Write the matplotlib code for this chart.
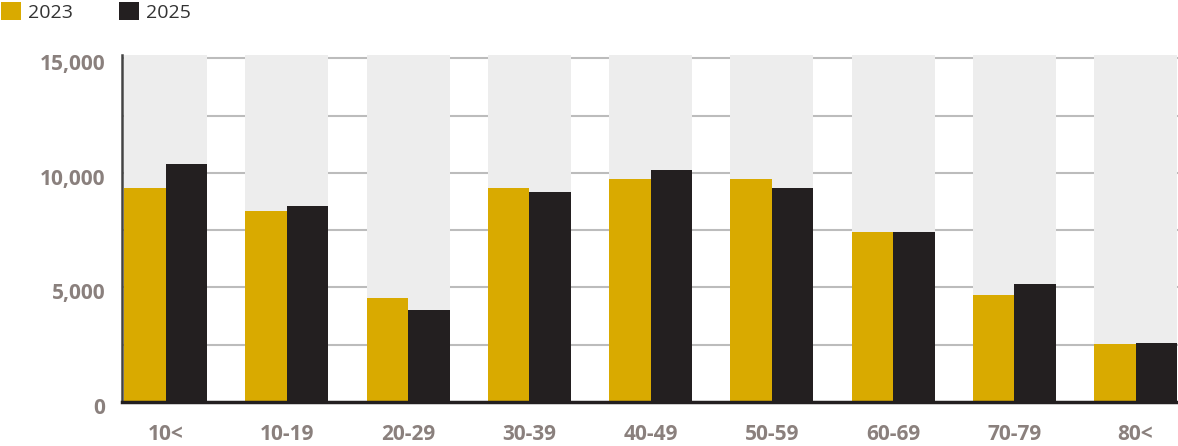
import matplotlib.pyplot as plt
import matplotlib.transforms as mtransforms
import numpy as np
from matplotlib.patches import Patch

# Age groups and values.
groups = ["10<", "10-19", "20-29", "30-39", "40-49", "50-59", "60-69", "70-79", "80<"]
series_names = ["2023", "2025"]
values_2023 = [9350, 8340, 4540, 9350, 9740, 9740, 7440, 4670, 2530]
values_2025 = [10390, 8560, 4020, 9170, 10130, 9350, 7440, 5150, 2560]
y_ticks = [0, 5000, 10000, 15000]
y_tick_labels = ["0", "5,000", "10,000", "15,000"]

GOLD = "#d9aa00"
DARK = "#231f20"
BACK = "#ededed"
LABEL = "#8a807d"

plt.rcParams["font.family"] = ["Open Sans", "DejaVu Sans"]

fig = plt.figure(figsize=(11.78, 4.46), dpi=100)
ax = fig.add_axes([122 / 1178, 44 / 446, 1056 / 1178, 347 / 446])

x = np.arange(len(groups))
w = 0.342
ymax = 15150

# Light gray "track" behind each pair of bars, full height of the axes.
ax.bar(x, [ymax] * len(groups), width=2 * w, color=BACK, zorder=1)
ax.bar(x - w / 2, values_2023, width=w, color=GOLD, zorder=2)
ax.bar(x + w / 2, values_2025, width=w, color=DARK, zorder=2)

ax.set_xlim(-0.359, len(groups) - 1 + 0.35)
ax.set_ylim(0, ymax)

# Grid every 2500, behind the tracks.
for yv in np.arange(2500, 15001, 2500):
    ax.axhline(yv, color="#bcbcbc", lw=1.5, zorder=0)

ax.set_yticks(y_ticks)
ax.set_yticklabels(y_tick_labels)
ax.set_xticks(x)
ax.set_xticklabels(groups)
ax.tick_params(axis="both", length=0, labelsize=15, labelcolor=LABEL)
ax.tick_params(axis="y", pad=12)
ax.tick_params(axis="x", pad=15.5)
# the y labels sit a few pixels below their gridlines in the original
shift = mtransforms.ScaledTranslation(0, -4 / 100, fig.dpi_scale_trans)
for lab in ax.get_yticklabels():
    lab.set_transform(lab.get_transform() + shift)
for lab in ax.get_xticklabels() + ax.get_yticklabels():
    lab.set_fontweight("bold")

for side in ["top", "right"]:
    ax.spines[side].set_visible(False)
ax.spines["left"].set_color("#444444")
ax.spines["left"].set_linewidth(1.8)
ax.spines["bottom"].set_color(DARK)
ax.spines["bottom"].set_linewidth(2.5)
ax.spines["left"].set_zorder(3)
ax.spines["bottom"].set_zorder(3)

handles = [Patch(facecolor=GOLD), Patch(facecolor=DARK)]
fig.legend(handles, series_names, loc="upper left",
           bbox_to_anchor=(1 / 1178, 1 - 2 / 446), ncol=2, frameon=False,
           fontsize=14, labelcolor="#333333", handlelength=1.03,
           handleheight=1.03, handletextpad=0.36, columnspacing=2.37,
           borderpad=0, borderaxespad=0)

fig.savefig("out.png", dpi=100)
